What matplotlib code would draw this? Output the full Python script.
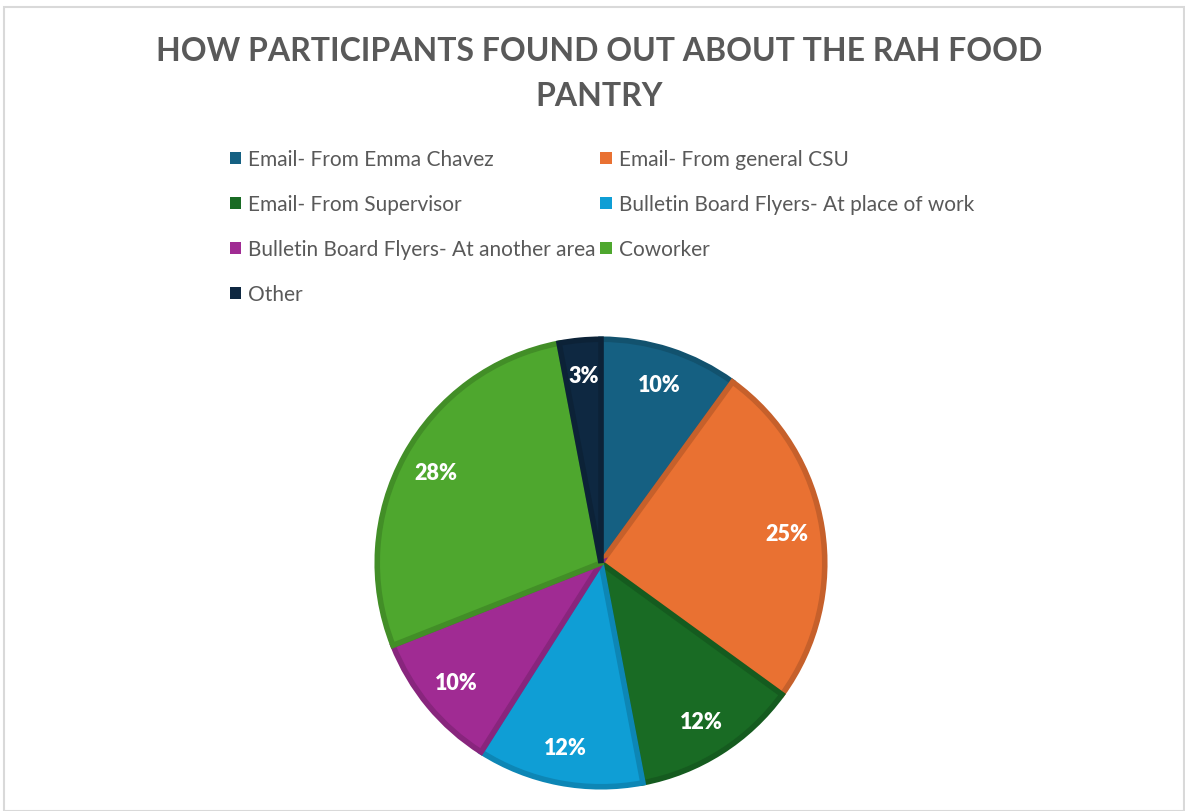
import matplotlib.pyplot as plt
from matplotlib.patches import Patch, Rectangle
import matplotlib.colors as mcolors

categories = ["Email- From Emma Chavez", "Email- From general CSU", "Email- From Supervisor",
              "Bulletin Board Flyers- At place of work", "Bulletin Board Flyers- At another area",
              "Coworker", "Other"]
shares = [10, 25, 12, 12, 10, 28, 3]
colors = ["#156082", "#E97132", "#196B24", "#0F9ED5", "#A02B93", "#4EA72E", "#0E2841"]

TEXT_GRAY = "#595959"


def darker(c, f=0.85):
    r, g, b = mcolors.to_rgb(c)
    return (r * f, g * f, b * f)


fig = plt.figure(figsize=(11.85, 8.12), dpi=100)
fig.patches.append(Rectangle((0.003, 0.0), 0.996, 0.99, transform=fig.transFigure,
                             fill=False, edgecolor="#d9d9d9", linewidth=1.5))

fig.text(0.506, 0.909, "HOW PARTICIPANTS FOUND OUT ABOUT THE RAH FOOD\nPANTRY",
         ha="center", va="center", fontsize=23, fontweight="bold", color=TEXT_GRAY,
         family="Lato", linespacing=1.65)

# pie
ax = fig.add_axes([(601 - 226) / 1185, (812 - 790) / 812, 452 / 1185, 452 / 812])
wedges, _, autotexts = ax.pie(shares, colors=colors, startangle=90, counterclock=False,
                              autopct="%d%%", pctdistance=0.84,
                              wedgeprops=dict(linewidth=0))
for w, c in zip(wedges, colors):
    w.set_edgecolor(darker(c))
    w.set_linewidth(4)
    w.set_joinstyle("miter")
for t in autotexts:
    t.set_color("white")
    t.set_fontweight("heavy")
    t.set_fontsize(15.5)
    t.set_family("Lato")
ax.set_xlim(-1.01, 1.01)
ax.set_ylim(-1.01, 1.01)
ax.set_aspect("equal")

# legend, filled row by row
order = [0, 2, 4, 6, 1, 3, 5]
handles = [Patch(facecolor=colors[i], edgecolor="none") for i in order]
labels = [categories[i] for i in order]
leg = fig.legend(handles, labels, ncol=2, loc="upper left", bbox_to_anchor=(0.178, 0.838),
                 frameon=False, handlelength=0.55, handleheight=0.55, handletextpad=0.35,
                 columnspacing=0.2, labelspacing=1.2, prop={"family": "Lato", "size": 15})
for t in leg.get_texts():
    t.set_color(TEXT_GRAY)

fig.savefig("out.png", dpi=100)
